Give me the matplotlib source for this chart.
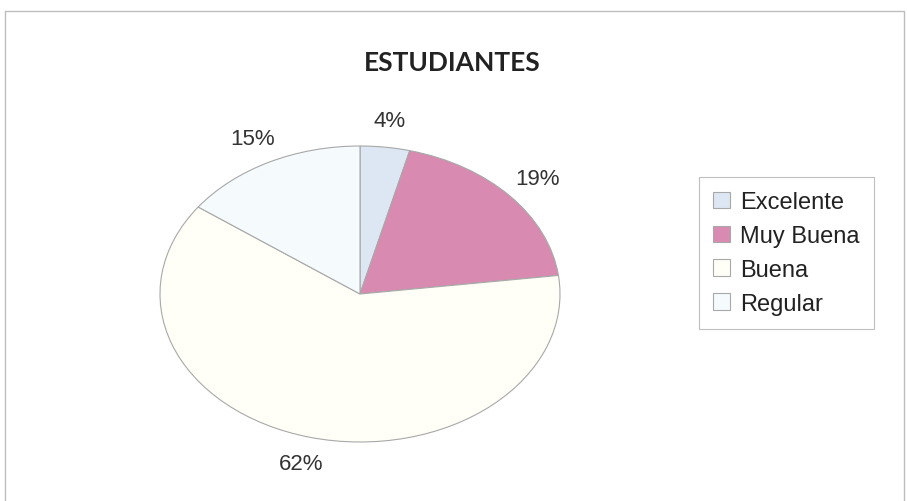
import matplotlib.pyplot as plt
from matplotlib.patches import Rectangle

categorias = ["Excelente", "Muy Buena", "Buena", "Regular"]
porcentajes = [4, 19, 62, 15]
colores = ["#dde6f3", "#d98ab0", "#fffff7", "#f5fafd"]

fig = plt.figure(figsize=(9.07, 5.02), dpi=100)
fig.patch.set_facecolor("white")

# marco del grafico
fig.patches.append(Rectangle((5 / 907, -0.05), 899 / 907, 1.0 - 12 / 502 + 0.05,
                             transform=fig.transFigure, fill=False,
                             edgecolor="#bdbdbd", linewidth=1.0))

ax = fig.add_axes([160 / 907, 59 / 502, 400 / 907, 296 / 502])
wedges, textos, pcts = ax.pie(porcentajes, colors=colores, startangle=90, counterclock=False,
                              autopct="%1.0f%%", pctdistance=1.18,
                              wedgeprops=dict(edgecolor="#a8a8a8", linewidth=0.8),
                              textprops=dict(family="Liberation Sans", fontsize=16, color="#333333"))
ax.set_aspect("auto")
ax.set_xlim(-1, 1)
ax.set_ylim(-1, 1)

fig.text(0.499, 0.875, "ESTUDIANTES", ha="center", va="center",
         family="Lato", fontweight="bold", fontsize=19, color="#222222")

leg = fig.legend(wedges, categorias, loc="center left", bbox_to_anchor=(699 / 907, 1 - 254 / 502),
                 prop=dict(family="Liberation Sans", size=17), frameon=True, fancybox=False,
                 handlelength=0.7, handleheight=0.7, handletextpad=0.45, labelspacing=0.5,
                 borderpad=0.6, borderaxespad=0, labelcolor="#222222")
leg.get_frame().set_edgecolor("#b0b0b0")
leg.get_frame().set_linewidth(0.8)

fig.savefig("out.png", dpi=100)
